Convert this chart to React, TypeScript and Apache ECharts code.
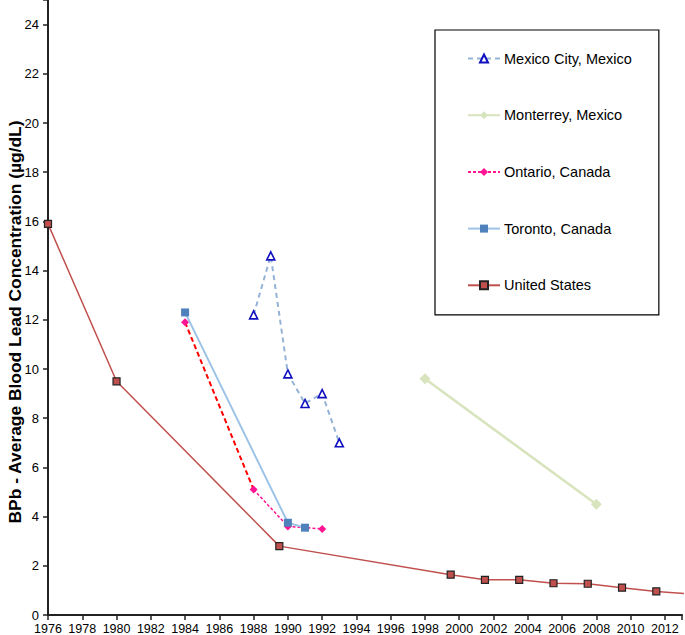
import React, { useEffect, useRef } from "react";
import * as echarts from "echarts";

const mexicoCityYears = [1988, 1989, 1990, 1991, 1992, 1993];
const mexicoCityValues = [12.2, 14.6, 9.8, 8.6, 9.0, 7.0];

const monterreyYears = [1998, 2008];
const monterreyValues = [9.6, 4.5];

const ontarioYears = [1984, 1988, 1990, 1992];
const ontarioValues = [11.9, 5.1, 3.6, 3.5];

const torontoYears = [1984, 1990, 1991];
const torontoValues = [12.3, 3.75, 3.55];

const usYears = [1976, 1980, 1989.5, 1999.5, 2001.5, 2003.5, 2005.5, 2007.5, 2009.5, 2011.5, 2013.5];
const usValues = [15.9, 9.5, 2.8, 1.64, 1.43, 1.43, 1.29, 1.27, 1.11, 0.96, 0.85];

const seriesNames = ["Mexico City, Mexico", "Monterrey, Mexico", "Ontario, Canada", "Toronto, Canada", "United States"];
const yTitle = "BPb - Average Blood Lead Concentration (µg/dL)";

const pairs = (xs: number[], ys: number[]) => xs.map((x, i) => [x, ys[i]]);

export default function App() {
  const ref = useRef<HTMLDivElement>(null);
  useEffect(() => {
    if (!ref.current) return;
    const chart = echarts.init(ref.current, null, { renderer: "svg" });
    const font = "Arial, Liberation Sans, sans-serif";
    const ontarioPts = pairs(ontarioYears, ontarioValues);
    // Ontario main series: line broken between first and second point (that segment drawn in red)
    const ontarioMain: any[] = [ontarioPts[0], [(ontarioYears[0] + ontarioYears[1]) / 2, null], ...ontarioPts.slice(1)];
    chart.setOption({
      animation: false,
      textStyle: { fontFamily: font },
      grid: { left: 48, right: 0, top: 0, bottom: 19, containLabel: false },
      xAxis: {
        type: "value",
        min: 1976,
        max: 2013,
        interval: 2,
        splitLine: { show: false },
        axisLine: { lineStyle: { color: "#222", width: 2 } },
        axisTick: { length: 5, lineStyle: { color: "#222", width: 1.5 } },
        axisLabel: {
          color: "#000",
          fontSize: 12.5,
          margin: 7,
          fontFamily: font,
          formatter: (v: number) => (v === 2013 ? "" : String(v)),
        },
      },
      yAxis: {
        type: "value",
        min: 0,
        max: 25,
        interval: 2,
        splitLine: { show: false },
        axisLine: { show: true, lineStyle: { color: "#222", width: 2 } },
        axisTick: { show: true, length: 5, lineStyle: { color: "#222", width: 1.5 } },
        axisLabel: {
          color: "#000",
          fontSize: 13,
          margin: 9,
          fontFamily: font,
          formatter: (v: number) => (v > 24 ? "" : String(v)),
        },
      },
      legend: {
        data: seriesNames,
        orient: "vertical",
        left: 435,
        top: 30,
        padding: [21, 27, 22, 32],
        itemWidth: 32,
        itemHeight: 10,
        itemGap: 41.7,
        borderColor: "#000",
        borderWidth: 1.2,
        textStyle: { color: "#000", fontSize: 14.5, fontFamily: font, padding: [0, 0, 0, -1] },
      },
      graphic: [
        {
          type: "text",
          x: 15,
          y: 322,
          rotation: Math.PI / 2,
          style: {
            text: yTitle,
            fontSize: 17.4,
            fontWeight: "bold",
            fontFamily: font,
            fill: "#000",
            align: "center",
            verticalAlign: "middle",
          },
        },
      ],
      series: [
        {
          name: "Mexico City, Mexico",
          type: "line",
          data: pairs(mexicoCityYears, mexicoCityValues),
          symbol: "triangle",
          symbolSize: 8,
          lineStyle: { color: "#95b3d7", width: 2, type: [5, 4] },
          itemStyle: { color: "#ffffff", borderColor: "#1010c0", borderWidth: 1.6 },
          z: 5,
        },
        {
          name: "Monterrey, Mexico",
          type: "line",
          data: pairs(monterreyYears, monterreyValues),
          symbol: "diamond",
          symbolSize: 11,
          lineStyle: { color: "#d7e4bd", width: 2.5 },
          itemStyle: { color: "#d7e4bd" },
        },
        {
          name: "Ontario red segment",
          type: "line",
          data: ontarioPts.slice(0, 2),
          symbol: "none",
          lineStyle: { color: "#ff0000", width: 2, type: [5, 3] },
          z: 2,
        },
        {
          name: "Ontario, Canada",
          type: "line",
          data: ontarioMain,
          connectNulls: false,
          symbol: "diamond",
          symbolSize: 8,
          lineStyle: { color: "#ff1493", width: 1.5, type: [3, 2] },
          itemStyle: { color: "#ff1493" },
          z: 3,
        },
        {
          name: "Toronto, Canada",
          type: "line",
          data: pairs(torontoYears, torontoValues),
          symbol: "rect",
          symbolSize: 8,
          lineStyle: { color: "#9dc3e6", width: 2 },
          itemStyle: { color: "#4f81bd" },
          z: 4,
        },
        {
          name: "United States",
          type: "line",
          data: pairs(usYears, usValues),
          symbol: "rect",
          symbolSize: 7,
          lineStyle: { color: "#c0504d", width: 1.5 },
          itemStyle: { color: "#c0504d", borderColor: "#222", borderWidth: 1.2 },
          z: 4,
        },
      ],
    });
    return () => chart.dispose();
  }, []);
  return <div ref={ref} style={{ width: 685, height: 635, position: "absolute", left: 0, top: 0 }} />;
}
